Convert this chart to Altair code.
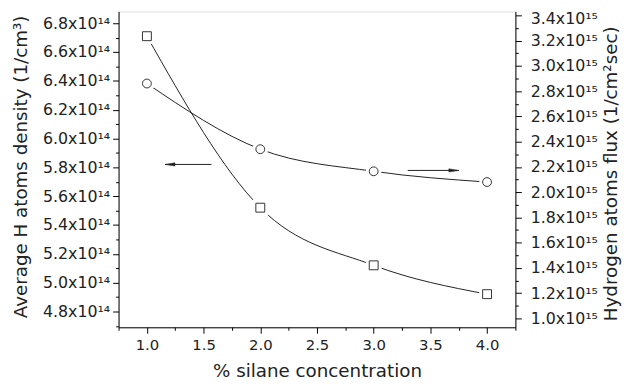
import altair as alt
import pandas as pd

# ---- data ----
conc = [1.0, 2.0, 3.0, 4.0]
density = [6.71e14, 5.52e14, 5.12e14, 4.92e14]      # squares, left axis (1/cm^3)
flux = [2.86e15, 2.34e15, 2.165e15, 2.08e15]        # circles, right axis (1/cm^2 sec)

arrow_left_x = [1.16, 1.57]
arrow_left_y = [5.82e14, 5.82e14]
arrow_right_x = [3.30, 3.75]
arrow_right_y = [2.172e15, 2.172e15]

x_ticks = [0.75, 1.0, 1.25, 1.5, 1.75, 2.0, 2.25, 2.5, 2.75, 3.0, 3.25, 3.5, 3.75, 4.0, 4.25]
left_ticks = [k * 1e13 for k in range(47, 69)]     # 4.7e14 .. 6.8e14
right_ticks = [k * 1e14 for k in range(10, 35)]    # 1.0e15 .. 3.4e15

x_domain = [0.75, 4.25]
left_domain = [4.69e14, 6.882e14]
right_domain = [0.930e15, 3.431e15]

df_sq = pd.DataFrame({"conc": conc, "val": density})
df_ci = pd.DataFrame({"conc": conc, "val": flux})
df_al = pd.DataFrame({"x": [arrow_left_x[0]], "x2": [arrow_left_x[1]], "y": [arrow_left_y[0]]})
df_ar = pd.DataFrame({"x": [arrow_right_x[0]], "x2": [arrow_right_x[1]], "y": [arrow_right_y[0]]})

FONT = "DejaVu Sans"
INK = "#222222"

xscale = alt.Scale(domain=x_domain, nice=False, zero=False)
lscale = alt.Scale(domain=left_domain, nice=False, zero=False)
rscale = alt.Scale(domain=right_domain, nice=False, zero=False)

common_axis = dict(
    domainColor="black", tickColor="black", labelColor=INK, labelFont=FONT,
    titleFont=FONT, titleFontSize=18.5, titleColor=INK,
    titleFontWeight="normal", grid=False, labelOverlap=False, labelFlush=False,
)

x_axis = alt.Axis(
    orient="bottom", values=x_ticks, title="% silane concentration",
    labelExpr="round(datum.value*4)%2==0 && datum.value>0.9 && datum.value<4.1 ? format(datum.value,'.1f') : ''",
    tickSize={"condition": {"test": "round(datum.value*4)%2==1", "value": 3}, "value": 6},
    labelFontSize=15, labelPadding=4, titleX=201, titleY=44, titleBaseline="middle",
    titleAlign="center",
    **common_axis,
)

left_axis = alt.Axis(
    orient="left", values=left_ticks, title="Average H atoms density (1/cm³)",
    labelExpr="round(datum.value/1e13)%2==0 ? format(datum.value/1e14,'.1f') + 'x10¹⁴' : ''",
    tickSize={"condition": {"test": "round(datum.value/1e13)%2==1", "value": 3}, "value": 6},
    labelFontSize=16, labelPadding=3, titleAngle=-90, titleX=-99, titleY=157,
    titleAlign="center", titleBaseline="middle",
    **common_axis,
)
right_axis = alt.Axis(
    orient="right", values=right_ticks, title="Hydrogen atoms flux (1/cm²sec)",
    labelExpr="round(datum.value/1e14)%2==0 ? format(datum.value/1e15,'.1f') + 'x10¹⁵' : ''",
    tickSize={"condition": {"test": "round(datum.value/1e14)%2==1", "value": 3}, "value": 6},
    labelOffset={"condition": {"test": "datum.value > 3.35e15", "value": 3}, "value": 0},
    labelFontSize=16, labelPadding=9, titleAngle=-90, titleX=96, titleY=164,
    titleAlign="center", titleBaseline="middle",
    **common_axis,
)

def xy(xf, yscale, yf="val", yaxis=None):
    return dict(
        x=alt.X(f"{xf}:Q", scale=xscale, axis=x_axis),
        y=alt.Y(f"{yf}:Q", scale=yscale, axis=yaxis),
    )

def series_layers(df, shape, axis, yscale, size):
    base = alt.Chart(df)
    line = base.mark_line(interpolate="monotone", color=INK, strokeWidth=1).encode(
        **xy("conc", yscale, yaxis=axis))
    halo = base.mark_point(shape=shape, size=size * 2.4, filled=True, fill="white",
                           stroke="white", fillOpacity=1, strokeOpacity=1).encode(
        **xy("conc", yscale))
    pts = base.mark_point(shape=shape, size=size, filled=True, fill="white",
                          stroke="#333333", fillOpacity=1, strokeOpacity=1,
                          strokeWidth=1).encode(**xy("conc", yscale))
    return [line, halo, pts]

def arrow_layers(df, yscale, head_path, head_field):
    rule = alt.Chart(df).mark_rule(color=INK, strokeWidth=1).encode(
        x=alt.X("x:Q", scale=xscale, axis=x_axis),
        x2="x2:Q",
        y=alt.Y("y:Q", scale=yscale, axis=None),
    )
    head = alt.Chart(df).mark_point(shape=head_path, size=64, filled=True,
                                    fill=INK, stroke=INK, fillOpacity=1,
                                    strokeOpacity=1, strokeWidth=0.5).encode(
        **xy(head_field, yscale, yf="y"))
    return [rule, head]

layers = []
layers += series_layers(df_sq, "square", left_axis, lscale, 81)
layers += arrow_layers(df_al, lscale, "M0,0L2.5,-0.4L2.5,0.4Z", "x")
layers += series_layers(df_ci, "circle", right_axis, rscale, 80)
layers += arrow_layers(df_ar, rscale, "M0,0L-2.5,-0.4L-2.5,0.4Z", "x2")

chart = alt.layer(*layers).resolve_scale(y="independent").properties(
    width=402, height=320,
    autosize=alt.AutoSizeParams(type="none"),
    padding={"left": 112, "top": 1, "right": 110, "bottom": 56},
).configure_view(stroke="black", strokeWidth=1).configure(background="white")

chart.save("out.html", embed_options={"renderer": "svg", "actions": False})
